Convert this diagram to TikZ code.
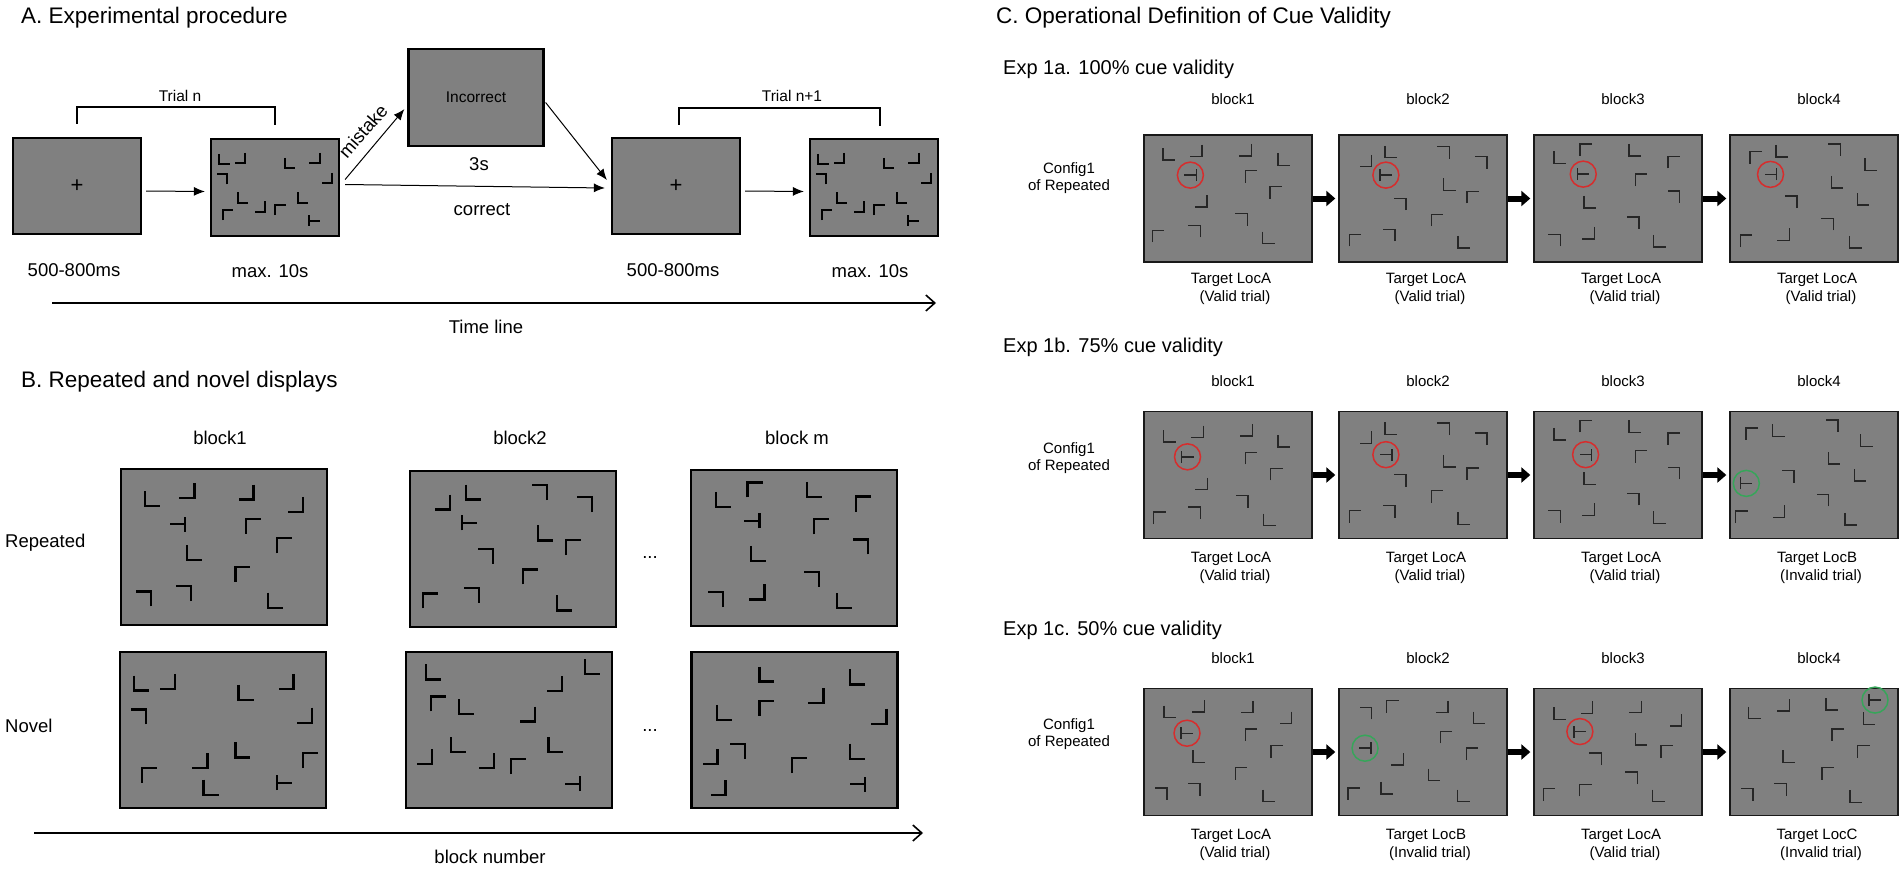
\documentclass[tikz,border=0pt]{standalone}
\usepackage{fontspec}
\setmainfont{Liberation Sans}
\usepackage{tikz}
\usetikzlibrary{arrows.meta,calc,positioning}

\definecolor{scrgray}{RGB}{128,128,128}
\definecolor{cuered}{RGB}{215,45,45}
\definecolor{cuegreen}{RGB}{55,165,90}

\newcommand\fsTtl{\fontsize{22.5}{27}\selectfont}
\newcommand\fsSub{\fontsize{20}{24}\selectfont}
\newcommand\fsLab{\fontsize{18.5}{22}\selectfont}
\newcommand\fsSml{\fontsize{15.5}{18}\selectfont}
\newcommand\fsC{\fontsize{15}{18}\selectfont}

% half arm of the L and T items
\newcommand\hh{5}
% items of one display: u/v (0..1 in the box), a/b corner signs, b=0 for the T
\newcommand\lmarks[5]{\foreach \px/\py/\ca/\cb in #5 {\pic at ({#1+(\px-0.5)*#3},{#2+(\py-0.5)*#4}) {lm={\ca}{\cb}};}}
\newcommand\cue[5]{\draw[#5] ({#1+(#3-0.5)*168},{#2+(#4-0.5)*127}) circle[radius=13];}

\tikzset{
  scr/.style={draw=black,line width=2.2pt,fill=scrgray,inner sep=0pt},
  cscr/.style={draw=black!90,line width=1.4pt,fill=scrgray,inner sep=0pt,minimum width=168pt,minimum height=127pt},
  lst/.style={line width=2pt,black},
  ttl/.style={font=\fsTtl,anchor=base west,inner sep=0pt},
  sub/.style={font=\fsSub,anchor=base west,inner sep=0pt},
  lab/.style={font=\fsLab,anchor=base,inner sep=0pt},
  sml/.style={font=\fsSml,anchor=base,inner sep=0pt},
  clab/.style={font=\fsC,anchor=base,inner sep=0pt},
  arr/.style={line width=1pt,-{Latex[length=11pt,width=9pt]}},
  tline/.style={line width=2pt,-{Straight Barb[length=9pt,width=16pt,line width=1.6pt]}},
  brk/.style={line width=1.6pt},
  barr/.style={line width=6pt,-{Triangle[length=9pt,width=15pt]},shorten >=3pt},
  redc/.style={draw=cuered,line width=1.5pt},
  grnc/.style={draw=cuegreen,line width=1.5pt},
  pics/lm/.style 2 args={code={
    \ifnum#2=0
      \draw[lst] ({(#1)*\hh},-\hh) -- ({(#1)*\hh},\hh) ({(#1)*\hh},0) -- ({-(#1)*\hh},0);
    \else
      \draw[lst] ({(#1)*\hh},{(#2)*\hh}) -- ({(#1)*\hh},{-(#2)*\hh}) -- ({-(#1)*\hh},{-(#2)*\hh});
    \fi}}
}

% search displays
\newcommand\cfgSrch{0.106/0.207/-1/1, 0.226/0.197/1/1, 0.615/0.248/-1/1, 0.808/0.197/1/1, 0.087/0.414/1/-1, 0.904/0.403/1/1, 0.25/0.603/-1/1, 0.72/0.603/-1/1, 0.385/0.697/1/1, 0.135/0.783/-1/-1, 0.543/0.731/-1/-1, 0.808/0.841/-1/0}
\newcommand\cfgRa{0.154/0.191/-1/1, 0.320/0.138/1/1, 0.607/0.148/1/1, 0.849/0.227/1/1, 0.275/0.354/1/0, 0.645/0.366/-1/-1, 0.355/0.536/-1/1, 0.793/0.492/-1/-1, 0.592/0.674/-1/-1, 0.109/0.833/1/-1, 0.302/0.799/1/-1, 0.749/0.841/-1/1}
\newcommand\cfgRb{0.159/0.199/1/1, 0.308/0.135/-1/1, 0.629/0.139/1/-1, 0.847/0.216/1/-1, 0.287/0.333/-1/0, 0.659/0.397/-1/1, 0.793/0.491/-1/-1, 0.368/0.547/1/-1, 0.586/0.679/-1/-1, 0.099/0.833/-1/-1, 0.299/0.797/1/-1, 0.751/0.846/-1/1}
\newcommand\cfgRm{0.156/0.188/-1/1, 0.311/0.128/-1/-1, 0.599/0.124/-1/1, 0.838/0.218/-1/-1, 0.296/0.325/1/0, 0.635/0.364/-1/-1, 0.329/0.535/-1/1, 0.823/0.493/1/-1, 0.584/0.700/1/-1, 0.117/0.831/1/-1, 0.320/0.782/1/1, 0.746/0.839/-1/1}
\newcommand\cfgNa{0.104/0.199/-1/1, 0.230/0.188/1/1, 0.612/0.258/-1/1, 0.806/0.188/1/1, 0.090/0.416/1/-1, 0.896/0.405/1/1, 0.597/0.628/-1/1, 0.388/0.697/1/1, 0.925/0.697/-1/-1, 0.143/0.790/-1/-1, 0.442/0.866/-1/1, 0.797/0.838/-1/0}
\newcommand\cfgNb{0.135/0.128/-1/1, 0.904/0.095/-1/1, 0.719/0.203/1/1, 0.156/0.333/-1/-1, 0.293/0.351/-1/1, 0.590/0.398/1/1, 0.254/0.595/-1/1, 0.090/0.671/1/1, 0.728/0.595/-1/1, 0.389/0.697/1/1, 0.548/0.734/-1/-1, 0.808/0.844/1/0}
\newcommand\cfgNm{0.366/0.141/-1/1, 0.805/0.160/-1/1, 0.604/0.281/1/1, 0.159/0.387/-1/1, 0.366/0.361/-1/-1, 0.910/0.411/1/1, 0.090/0.671/1/1, 0.225/0.636/1/-1, 0.805/0.636/-1/1, 0.526/0.729/-1/-1, 0.129/0.870/1/1, 0.805/0.848/1/0}
% cue validity displays
\newcommand\cfgAa{0.148/0.150/-1/1, 0.310/0.124/1/1, 0.603/0.118/1/1, 0.834/0.192/-1/1, 0.276/0.316/1/0, 0.638/0.329/-1/-1, 0.786/0.455/-1/-1, 0.338/0.521/1/1, 0.579/0.666/1/-1, 0.086/0.797/-1/-1, 0.300/0.758/1/-1, 0.741/0.808/-1/1}
\newcommand\cfgAb{0.159/0.203/1/1, 0.310/0.132/-1/1, 0.621/0.139/1/-1, 0.845/0.218/1/-1, 0.279/0.316/-1/0, 0.659/0.389/-1/1, 0.797/0.492/-1/-1, 0.362/0.545/1/-1, 0.586/0.671/-1/-1, 0.097/0.829/-1/-1, 0.297/0.789/1/-1, 0.745/0.842/-1/1}
\newcommand\cfgAc{0.155/0.176/-1/1, 0.310/0.118/-1/-1, 0.600/0.118/-1/1, 0.834/0.216/-1/-1, 0.293/0.308/-1/0, 0.638/0.355/-1/-1, 0.334/0.526/-1/1, 0.831/0.487/1/-1, 0.590/0.692/1/-1, 0.121/0.829/1/-1, 0.324/0.771/1/1, 0.748/0.834/-1/1}
\newcommand\cfgAd{0.155/0.178/-1/-1, 0.310/0.125/-1/1, 0.621/0.117/1/-1, 0.838/0.231/-1/1, 0.241/0.310/1/0, 0.638/0.369/-1/1, 0.793/0.504/-1/1, 0.362/0.528/1/-1, 0.579/0.703/1/-1, 0.097/0.836/-1/-1, 0.317/0.782/1/1, 0.748/0.841/-1/1}
\newcommand\cfgBa{0.152/0.193/-1/1, 0.317/0.159/1/1, 0.610/0.146/1/1, 0.834/0.233/-1/1, 0.259/0.357/-1/0, 0.638/0.370/-1/-1, 0.790/0.495/-1/-1, 0.341/0.569/1/1, 0.583/0.709/1/-1, 0.093/0.839/-1/-1, 0.300/0.799/1/-1, 0.748/0.852/-1/1}
\newcommand\cfgBb{0.159/0.203/1/1, 0.310/0.132/-1/1, 0.621/0.139/1/-1, 0.845/0.218/1/-1, 0.279/0.340/1/0, 0.659/0.389/-1/1, 0.797/0.492/-1/-1, 0.362/0.545/1/-1, 0.586/0.671/-1/-1, 0.097/0.829/-1/-1, 0.297/0.789/1/-1, 0.745/0.842/-1/1}
\newcommand\cfgBc{0.155/0.176/-1/1, 0.310/0.118/-1/-1, 0.600/0.118/-1/1, 0.834/0.216/-1/-1, 0.307/0.340/1/0, 0.638/0.355/-1/-1, 0.334/0.526/-1/1, 0.831/0.487/1/-1, 0.590/0.692/1/-1, 0.121/0.829/1/-1, 0.324/0.771/1/1, 0.748/0.834/-1/1}
\newcommand\cfgBd{0.131/0.176/-1/-1, 0.290/0.149/-1/1, 0.607/0.114/1/-1, 0.814/0.226/-1/1, 0.621/0.367/-1/1, 0.776/0.500/-1/1, 0.345/0.513/1/-1, 0.097/0.566/-1/0, 0.552/0.699/1/-1, 0.069/0.832/-1/-1, 0.290/0.785/1/1, 0.721/0.846/-1/1}
\newcommand\cfgCa{0.154/0.183/-1/1, 0.324/0.138/1/1, 0.614/0.144/1/1, 0.843/0.230/1/1, 0.256/0.352/-1/0, 0.638/0.366/-1/-1, 0.792/0.496/-1/-1, 0.328/0.535/-1/1, 0.580/0.671/-1/-1, 0.102/0.830/1/-1, 0.297/0.796/1/-1, 0.744/0.843/-1/1}
\newcommand\cfgCb{0.158/0.196/1/-1, 0.320/0.144/-1/-1, 0.612/0.144/1/1, 0.835/0.230/-1/1, 0.155/0.470/1/0, 0.639/0.384/-1/-1, 0.347/0.556/1/1, 0.794/0.517/-1/-1, 0.567/0.679/-1/1, 0.089/0.830/-1/-1, 0.285/0.783/-1/1, 0.742/0.843/-1/1}
\newcommand\cfgCc{0.154/0.196/-1/1, 0.314/0.149/1/1, 0.604/0.144/1/1, 0.843/0.248/1/1, 0.273/0.339/-1/0, 0.638/0.399/-1/1, 0.792/0.496/-1/-1, 0.365/0.556/1/-1, 0.580/0.705/1/-1, 0.092/0.836/-1/-1, 0.307/0.802/-1/-1, 0.741/0.843/-1/1}
\newcommand\cfgCd{0.147/0.191/-1/1, 0.317/0.131/1/1, 0.608/0.123/-1/1, 0.863/0.091/-1/0, 0.829/0.235/-1/1, 0.642/0.366/-1/-1, 0.352/0.535/-1/1, 0.795/0.496/-1/-1, 0.584/0.671/-1/-1, 0.102/0.836/1/-1, 0.300/0.796/1/-1, 0.751/0.849/-1/1}

\begin{document}
\begin{tikzpicture}[x=1pt,y=1pt,yscale=-1]
\useasboundingbox (0,0) rectangle (1902,872);

%%% A. Experimental procedure
\node[ttl] (titA) at (21,24) {A. Experimental procedure};
\node[scr,minimum width=128pt,minimum height=96pt,font=\fontsize{22}{22}\selectfont] (fixA) at (77,186) {+};
\node[scr,minimum width=128pt,minimum height=97pt] (srchA) at (275,187.5) {};
\node[scr,minimum width=135pt,minimum height=97pt,font=\fsSml] (inc) at (476,97.5) {Incorrect};
\node[scr,minimum width=128pt,minimum height=96pt,font=\fontsize{22}{22}\selectfont] (fixAA) at (676,186) {+};
\node[scr,minimum width=128pt,minimum height=97pt] (srchAA) at (874,187.5) {};
\renewcommand\hh{5.2}
\lmarks{275}{187.5}{128}{97}{\cfgSrch}
\lmarks{874}{187.5}{128}{97}{\cfgSrch}

% arrows between screens
\draw[arr] ($(fixA.east)+(4,5)$) -- ($(srchA.west)+(-5,4)$);
\draw[arr] ($(fixAA.east)+(4,5)$) -- ($(srchAA.west)+(-5,4)$);
\draw[arr] ($(srchA.east)+(5,-8)$) -- ($(inc.south west)+(-3,-38)$);
\draw[arr] ($(inc.east)+(1,5)$) -- ($(fixAA.west)+(-4,-6)$);
\draw[arr] ($(srchA.east)+(5,-3)$) -- ($(fixAA.west)+(-6,2)$);
\node[font=\fsLab,rotate=49,inner sep=0pt] (mis) at (363,131) {mistake};
\node[lab] (three) at (479,170) {3s};
\node[lab] (corr) at (482,215) {correct};

% trial brackets
\draw[brk] ($(fixA.north)+(0,-13)$) |- ($(srchA.north)+(0,-31)$) -- ($(srchA.north)+(0,-13)$);
\draw[brk] ($(fixAA.north)+(3,-12)$) |- ($(srchAA.north)+(6,-30)$) -- ($(srchAA.north)+(6,-12)$);
\node[sml] (trn) at (180,102) {Trial n};
\node[sml] (trnn) at (792,102) {Trial n+1};

\node[lab] (durA) at (74,276) {500-800ms};
\node[lab] (maxA) at (270,277) {max. 10s};
\node[lab] (durAA) at (673,276) {500-800ms};
\node[lab] (maxAA) at (870,277) {max. 10s};

\coordinate (tl0) at (52,303);
\coordinate (tl1) at (936,303);
\draw[tline] (tl0) -- (tl1);
\node[lab] (tltxt) at (486,333) {Time line};

%%% B. Repeated and novel displays
\node[ttl] (titB) at (21,387) {B. Repeated and novel displays};
\node[lab] (bb1) at (220,444) {block1};
\node[lab] (bb2) at (520,444) {block2};
\node[lab] (bbm) at (797,444) {block m};
\node[lab,anchor=base west] (lrep) at (5,547) {Repeated};
\node[lab,anchor=base west] (lnov) at (5,732) {Novel};
\foreach \n/\X/\Y in {rep1/224/547, rep2/513/549, repm/794/548, nov1/223/730, nov2/509/730, novm/794.5/730}
  \node[scr,minimum width=206pt,minimum height=156pt] (\n) at (\X,\Y) {};
\renewcommand\hh{7.5}
\tikzset{lst/.style={line width=2.2pt,black}}
\lmarks{224}{547}{206}{156}{\cfgRa}
\lmarks{513}{549}{206}{156}{\cfgRb}
\lmarks{794}{548}{206}{156}{\cfgRm}
\lmarks{223}{730}{206}{156}{\cfgNa}
\lmarks{509}{730}{206}{156}{\cfgNb}
\lmarks{794.5}{730}{206}{156}{\cfgNm}
\node[lab] (dotr) at (650,558) {...};
\node[lab] (dotn) at (650,731) {...};

\coordinate (bn0) at (34,833);
\coordinate (bn1) at (923,833);
\draw[tline] (bn0) -- (bn1);
\node[lab] (bntxt) at (490,863) {block number};

%%% C. Operational Definition of Cue Validity
\node[ttl] (titC) at (996,24) {C. Operational Definition of Cue Validity};
\node[sub] (expa) at (1003,75) {Exp 1a. 100\% cue validity};
\node[sub] (expb) at (1003,352) {Exp 1b. 75\% cue validity};
\node[sub] (expc) at (1003,635) {Exp 1c. 50\% cue validity};

\foreach \r/\Y/\B/\F in {a/198.5/105/173, b/475/386.7/453, c/752/663/729} {
  \node[clab] (cf\r) at (1069,\F) {Config1};
  \node[clab] (of\r) at (1069,\F+17.7) {of Repeated};
  \foreach \c/\X in {1/1228, 2/1423, 3/1618, 4/1814} {
    \node[cscr] (\r\c) at (\X,\Y) {};
    \node[clab] (bl\r\c) at (\X+5,\B) {block\c};
  }
  \foreach \c/\d in {1/2, 2/3, 3/4}
    \draw[barr] (\r\c) -- (\r\d);
}

\renewcommand\hh{6}
\tikzset{lst/.style={line width=1.4pt,black!85}}
\lmarks{1228}{198.5}{168}{127}{\cfgAa}
\lmarks{1423}{198.5}{168}{127}{\cfgAb}
\lmarks{1618}{198.5}{168}{127}{\cfgAc}
\lmarks{1814}{198.5}{168}{127}{\cfgAd}
\lmarks{1228}{475}{168}{127}{\cfgBa}
\lmarks{1423}{475}{168}{127}{\cfgBb}
\lmarks{1618}{475}{168}{127}{\cfgBc}
\lmarks{1814}{475}{168}{127}{\cfgBd}
\lmarks{1228}{752}{168}{127}{\cfgCa}
\lmarks{1423}{752}{168}{127}{\cfgCb}
\lmarks{1618}{752}{168}{127}{\cfgCc}
\lmarks{1814}{752}{168}{127}{\cfgCd}

\cue{1228}{198.5}{0.276}{0.316}{redc}
\cue{1423}{198.5}{0.279}{0.316}{redc}
\cue{1618}{198.5}{0.293}{0.308}{redc}
\cue{1814}{198.5}{0.241}{0.310}{redc}
\cue{1228}{475}{0.259}{0.357}{redc}
\cue{1423}{475}{0.279}{0.340}{redc}
\cue{1618}{475}{0.307}{0.340}{redc}
\cue{1814}{475}{0.097}{0.566}{grnc}
\cue{1228}{752}{0.256}{0.352}{redc}
\cue{1423}{752}{0.155}{0.470}{grnc}
\cue{1618}{752}{0.273}{0.339}{redc}
\cue{1814}{752}{0.863}{0.091}{grnc}

% target labels
\foreach \r/\T/\c/\X/\L/\V in {a/283/1/1228/A/Valid, a/283/2/1423/A/Valid, a/283/3/1618/A/Valid, a/283/4/1814/A/Valid,
    b/562/1/1228/A/Valid, b/562/2/1423/A/Valid, b/562/3/1618/A/Valid, b/562/4/1814/B/Invalid,
    c/839/1/1228/A/Valid, c/839/2/1423/B/Invalid, c/839/3/1618/A/Valid, c/839/4/1814/C/Invalid} {
  \node[clab] (tg\r\c) at (\X+3,\T) {Target Loc\L};
  \node[clab] (vl\r\c) at (\X+7,\T+18) {(\V\ trial)};
}
\end{tikzpicture}
\end{document}
